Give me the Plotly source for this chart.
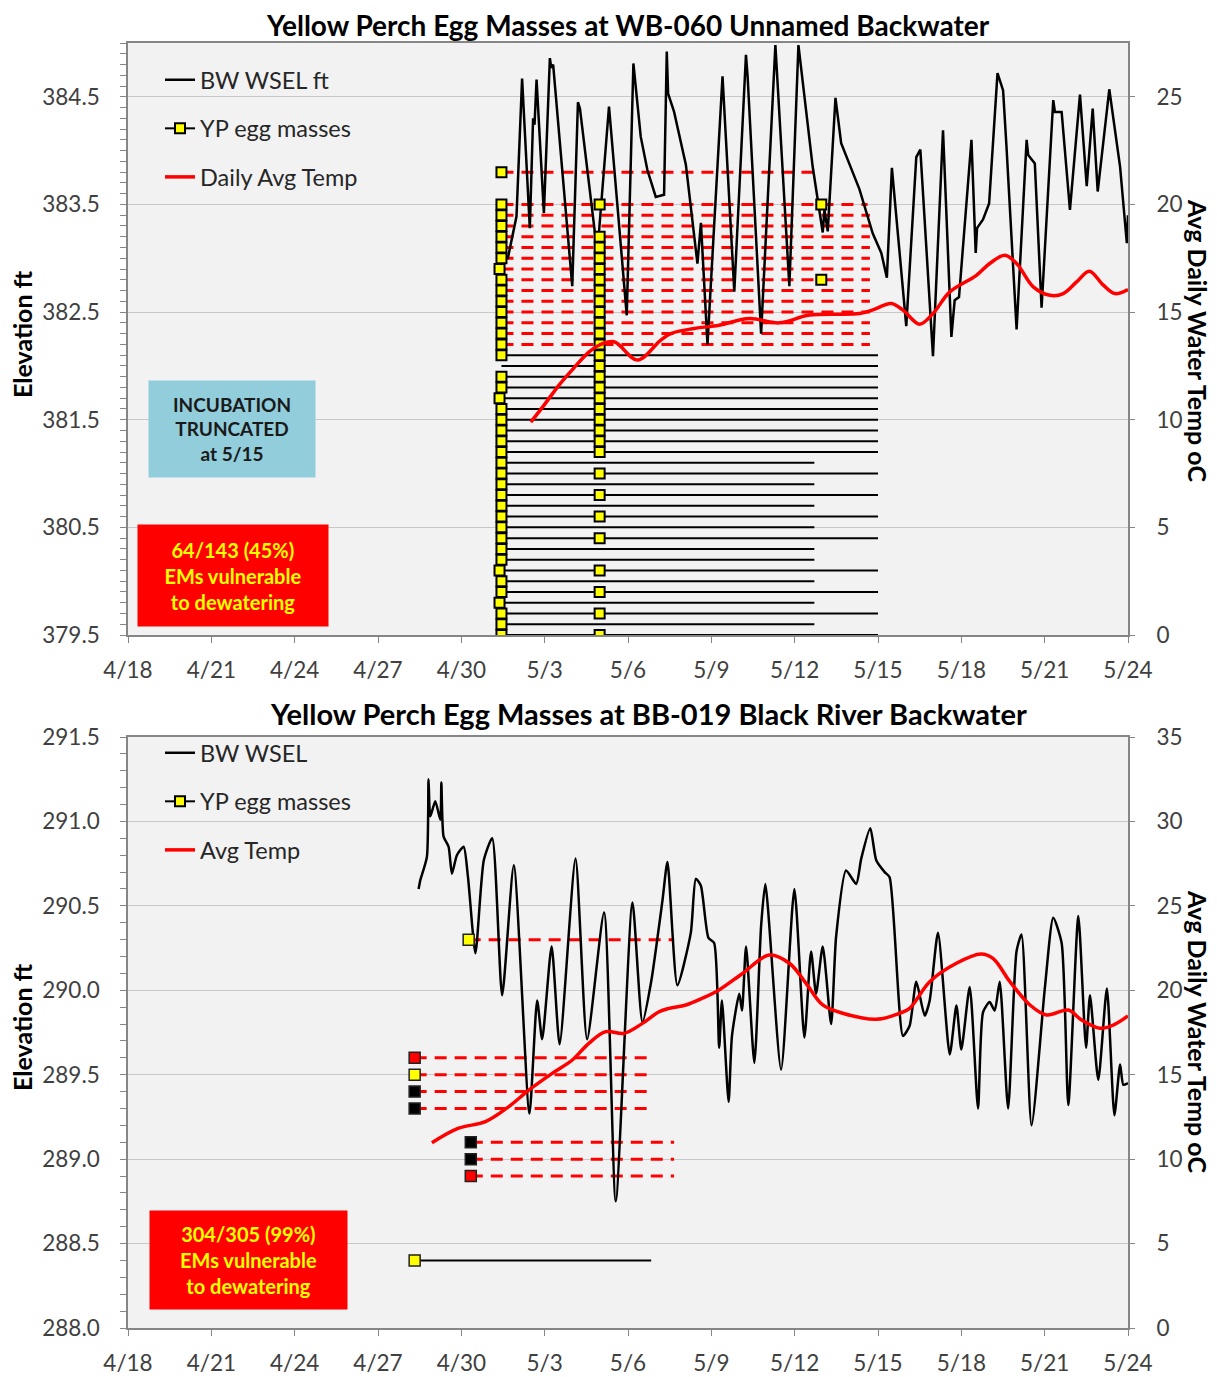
import plotly.graph_objects as go

# ---------------- shared axis data ----------------
x_tick_dates = ["2014-04-18", "2014-04-21", "2014-04-24", "2014-04-27", "2014-04-30",
                "2014-05-03", "2014-05-06", "2014-05-09", "2014-05-12", "2014-05-15",
                "2014-05-18", "2014-05-21", "2014-05-24"]
x_tick_text = ["4/18", "4/21", "4/24", "4/27", "4/30", "5/3", "5/6", "5/9", "5/12",
               "5/15", "5/18", "5/21", "5/24"]
x_range = ["2014-04-18", "2014-05-24"]

# ---------------- top chart (WB-060) ----------------
top_title = "Yellow Perch Egg Masses at WB-060 Unnamed Backwater"
top_wsel_time = [
    "2014-05-01 16:00", "2014-05-01 23:40", "2014-05-02 04:30", "2014-05-02 11:10",
    "2014-05-02 14:00", "2014-05-02 15:15", "2014-05-02 17:00", "2014-05-02 23:20",
    "2014-05-03 04:30", "2014-05-03 05:40", "2014-05-03 07:20", "2014-05-03 23:50",
    "2014-05-04 04:45", "2014-05-04 06:30", "2014-05-04 21:30", "2014-05-05 07:35",
    "2014-05-05 22:55", "2014-05-06 04:40", "2014-05-06 11:00", "2014-05-06 16:45",
    "2014-05-07 00:00", "2014-05-07 07:10", "2014-05-07 09:30", "2014-05-07 10:40",
    "2014-05-07 15:50", "2014-05-08 02:00", "2014-05-08 12:00", "2014-05-08 15:00",
    "2014-05-08 20:40", "2014-05-09 09:40", "2014-05-09 19:50", "2014-05-10 05:55",
    "2014-05-10 07:20", "2014-05-10 19:00", "2014-05-11 07:20", "2014-05-11 19:25",
    "2014-05-12 03:15", "2014-05-12 04:05", "2014-05-12 15:35", "2014-05-13 00:15",
    "2014-05-13 01:45", "2014-05-13 04:35", "2014-05-13 11:15", "2014-05-13 16:10",
    "2014-05-14 08:00", "2014-05-14 19:30", "2014-05-15 02:50", "2014-05-15 07:40",
    "2014-05-15 12:00", "2014-05-16 00:25", "2014-05-16 09:05", "2014-05-16 12:35",
    "2014-05-16 23:30", "2014-05-17 08:10", "2014-05-17 15:25", "2014-05-17 18:15",
    "2014-05-17 22:00", "2014-05-18 08:45", "2014-05-18 12:25", "2014-05-18 13:35",
    "2014-05-18 18:45", "2014-05-19 00:00", "2014-05-19 07:15", "2014-05-19 12:05",
    "2014-05-19 15:00", "2014-05-19 23:45", "2014-05-20 08:25", "2014-05-20 09:45",
    "2014-05-20 15:30", "2014-05-20 21:20", "2014-05-21 07:25", "2014-05-21 08:50",
    "2014-05-21 14:40", "2014-05-21 21:50", "2014-05-22 06:30", "2014-05-22 12:20",
    "2014-05-22 17:30", "2014-05-22 21:50", "2014-05-23 07:50", "2014-05-23 17:10",
    "2014-05-23 23:00", "2014-05-24 00:00"]
top_wsel_elev = [
    382.99, 383.39, 384.67, 383.28, 384.30, 384.24, 384.66, 383.42,
    384.86, 384.77, 384.80, 382.74, 384.45, 384.39, 383.05, 384.41,
    382.47, 384.81, 384.13, 383.82, 383.57, 383.59, 384.92, 384.53,
    384.36, 383.87, 382.95, 383.33, 382.20, 384.69, 382.69, 384.89,
    384.69, 382.30, 384.98, 382.74, 384.98, 384.90, 383.85, 383.24,
    383.45, 383.25, 384.49, 384.07, 383.64, 383.23, 383.05, 382.82,
    383.84, 382.37, 383.94, 384.01, 382.09, 384.19, 382.27, 382.61,
    382.64, 384.10, 383.05, 383.28, 383.36, 383.51, 384.72, 384.56,
    384.04, 382.34, 384.10, 383.96, 383.88, 382.54, 384.47, 384.36,
    384.36, 383.45, 384.52, 383.67, 384.39, 383.62, 384.57, 383.85,
    383.14, 383.40]
top_temp_time = [
    "2014-05-02 12:00", "2014-05-02 23:30", "2014-05-03 12:15", "2014-05-04 01:10",
    "2014-05-04 14:10", "2014-05-04 23:00", "2014-05-05 12:00", "2014-05-06 08:10",
    "2014-05-07 04:20", "2014-05-07 13:00", "2014-05-08 09:10", "2014-05-09 06:40",
    "2014-05-10 08:50", "2014-05-11 10:50", "2014-05-12 12:50", "2014-05-14 08:00",
    "2014-05-14 19:00", "2014-05-15 11:30", "2014-05-15 21:35", "2014-05-16 12:00",
    "2014-05-16 23:30", "2014-05-17 14:00", "2014-05-18 13:00", "2014-05-19 00:30",
    "2014-05-19 13:40", "2014-05-19 23:45", "2014-05-20 14:10", "2014-05-21 04:30",
    "2014-05-21 16:05", "2014-05-22 03:35", "2014-05-22 14:35", "2014-05-23 02:40",
    "2014-05-23 12:45", "2014-05-24 00:00"]
top_temp_val = [
    9.89, 10.68, 11.60, 12.40, 13.14, 13.46, 13.62, 12.77,
    13.70, 14.00, 14.24, 14.39, 14.70, 14.50, 14.86, 14.93,
    15.09, 15.40, 15.09, 14.44, 14.93, 15.94, 16.71, 17.26,
    17.64, 17.26, 16.17, 15.78, 15.86, 16.40, 16.90, 16.25,
    15.86, 16.05]

# egg-mass incubation segments (elevation, start, end, vulnerable)
top_em_elev = [383.8, 383.5, 383.4, 383.3, 383.2, 383.1, 383.0, 382.9, 382.8, 382.7,
               382.6, 382.5, 382.4, 382.3, 382.2,
               382.1, 382.0, 381.9, 381.8, 381.7, 381.6, 381.5, 381.4, 381.3, 381.2,
               381.1, 381.0, 380.9, 380.8, 380.7, 380.6, 380.5, 380.4, 380.3, 380.2,
               380.1, 380.0, 379.9, 379.8, 379.7, 379.6, 379.5]
top_em_start = ["2014-05-01 10:40"] * 42
top_em_end = (["2014-05-12 16:00", "2014-05-14 15:00"] + ["2014-05-14 17:00"] * 13 +
              ["2014-05-15 00:00"] * 10 +
              ["2014-05-12 17:00", "2014-05-15 00:00", "2014-05-12 17:00", "2014-05-15 00:00",
               "2014-05-12 17:00", "2014-05-15 00:00", "2014-05-12 17:00", "2014-05-15 00:00",
               "2014-05-12 17:00", "2014-05-12 17:00", "2014-05-15 00:00", "2014-05-12 17:00",
               "2014-05-15 00:00", "2014-05-12 17:00", "2014-05-15 00:00", "2014-05-12 17:00",
               "2014-05-15 00:00"])
top_em_vuln = [True] * 15 + [False] * 27

# egg-mass markers: first survey (5/1), second survey (5/5), late finds (5/13)
top_col1_elev = [383.8, 383.5, 383.4, 383.3, 383.2, 383.1, 383.0, 382.9, 382.8, 382.7,
                 382.6, 382.5, 382.4, 382.3, 382.2, 382.1,
                 381.9, 381.8, 381.7, 381.6, 381.5, 381.4, 381.3, 381.2, 381.1, 381.0,
                 380.9, 380.8, 380.7, 380.6, 380.5, 380.4, 380.3, 380.2, 380.1,
                 380.0, 379.9, 379.8, 379.7, 379.6, 379.5]
top_col1_time = (["2014-05-01 10:40"] * 7 + ["2014-05-01 09:00"] +
                 ["2014-05-01 10:40"] * 10 + ["2014-05-01 09:00"] +
                 ["2014-05-01 10:40"] * 15 + ["2014-05-01 09:00"] +
                 ["2014-05-01 10:40"] * 2 + ["2014-05-01 09:00"] +
                 ["2014-05-01 10:40"] * 3)
top_col2_elev = [383.5, 383.2, 383.1, 383.0, 382.9, 382.8, 382.7, 382.6, 382.5, 382.4,
                 382.3, 382.2, 382.1, 382.0, 381.9, 381.8, 381.7, 381.6, 381.5, 381.4,
                 381.3, 381.2, 381.0, 380.8, 380.6, 380.4, 380.1, 379.9, 379.7, 379.5]
top_col2_time = ["2014-05-04 23:30"] * len(top_col2_elev)
top_late_elev = [383.5, 382.8]
top_late_time = ["2014-05-12 23:00", "2014-05-12 23:00"]

top_mk_time = top_col1_time + top_col2_time + top_late_time
top_mk_elev = top_col1_elev + top_col2_elev + top_late_elev

# ---------------- bottom chart (BB-019) ----------------
bot_title = "Yellow Perch Egg Masses at BB-019 Black River Backwater"
bot_wsel_time = [
    "2014-04-28 11:05", "2014-04-28 12:30", "2014-04-28 18:15", "2014-04-28 19:40",
    "2014-04-28 21:10", "2014-04-29 01:30", "2014-04-29 05:50", "2014-04-29 06:45",
    "2014-04-29 08:40", "2014-04-29 13:00", "2014-04-29 15:50", "2014-04-29 20:10",
    "2014-04-30 02:00", "2014-04-30 05:45", "2014-04-30 12:10", "2014-04-30 19:25",
    "2014-05-01 02:40", "2014-05-01 11:15", "2014-05-01 21:20", "2014-05-02 10:50",
    "2014-05-02 17:30", "2014-05-02 21:50", "2014-05-03 06:00", "2014-05-03 12:55",
    "2014-05-04 02:40", "2014-05-04 12:40", "2014-05-05 03:20", "2014-05-05 13:25",
    "2014-05-06 03:50", "2014-05-06 12:30", "2014-05-06 20:00", "2014-05-07 05:45",
    "2014-05-07 10:05", "2014-05-07 18:40", "2014-05-08 06:15", "2014-05-08 10:35",
    "2014-05-08 14:55", "2014-05-08 21:30", "2014-05-09 02:25", "2014-05-09 06:45",
    "2014-05-09 09:10", "2014-05-09 14:55", "2014-05-09 17:50", "2014-05-10 00:10",
    "2014-05-10 02:30", "2014-05-10 06:00", "2014-05-10 13:10", "2014-05-10 19:00",
    "2014-05-10 22:40", "2014-05-11 12:15", "2014-05-11 23:45", "2014-05-12 08:25",
    "2014-05-12 14:10", "2014-05-12 18:30", "2014-05-13 00:15", "2014-05-13 07:30",
    "2014-05-13 11:50", "2014-05-13 20:25", "2014-05-14 05:10", "2014-05-14 09:30",
    "2014-05-14 17:20", "2014-05-14 22:30", "2014-05-15 05:45", "2014-05-15 10:00",
    "2014-05-15 21:35", "2014-05-16 03:20", "2014-05-16 09:05", "2014-05-16 16:20",
    "2014-05-16 20:40", "2014-05-17 03:50", "2014-05-17 14:00", "2014-05-17 19:45",
    "2014-05-18 00:00", "2014-05-18 07:15", "2014-05-18 14:25", "2014-05-18 18:45",
    "2014-05-19 00:30", "2014-05-19 04:50", "2014-05-19 09:10", "2014-05-19 16:25",
    "2014-05-19 23:40", "2014-05-20 04:00", "2014-05-20 12:40", "2014-05-21 00:15",
    "2014-05-21 07:25", "2014-05-21 14:40", "2014-05-21 20:25", "2014-05-22 05:05",
    "2014-05-22 11:45", "2014-05-22 15:10", "2014-05-22 22:20", "2014-05-23 05:45",
    "2014-05-23 12:15", "2014-05-23 17:10", "2014-05-23 20:00", "2014-05-24 00:00"]
bot_wsel_elev = [
    290.60, 290.65, 290.79, 291.25, 291.03, 291.12, 291.01, 291.23,
    290.91, 290.85, 290.69, 290.80, 290.85, 290.67, 290.22, 290.77,
    290.90, 289.97, 290.74, 289.27, 289.94, 289.71, 290.26, 289.68,
    290.78, 289.71, 290.46, 288.75, 290.52, 289.81, 290.05, 290.53,
    290.76, 290.03, 290.34, 290.66, 290.62, 290.31, 290.28, 289.66,
    289.94, 289.34, 289.73, 289.98, 289.88, 290.26, 289.57, 290.38,
    290.63, 289.53, 290.60, 289.72, 290.23, 289.98, 290.26, 289.80,
    290.32, 290.71, 290.63, 290.78, 290.96, 290.77, 290.70, 290.67,
    289.73, 289.79, 290.05, 289.85, 289.94, 290.34, 289.62, 289.91,
    289.65, 290.02, 289.30, 289.87, 289.93, 289.88, 290.05, 289.30,
    290.23, 290.33, 289.20, 290.02, 290.43, 290.28, 289.32, 290.44,
    289.66, 289.97, 289.47, 290.01, 289.26, 289.56, 289.44, 289.45]
bot_temp_time = [
    "2014-04-28 22:35", "2014-04-29 21:40", "2014-04-30 20:50", "2014-05-01 17:00",
    "2014-05-02 10:20", "2014-05-03 06:30", "2014-05-03 23:50", "2014-05-04 14:10",
    "2014-05-05 04:50", "2014-05-05 20:40", "2014-05-06 12:30", "2014-05-07 02:50",
    "2014-05-07 11:30", "2014-05-08 02:00", "2014-05-08 16:20", "2014-05-09 06:40",
    "2014-05-10 03:10", "2014-05-11 02:10", "2014-05-11 19:25", "2014-05-12 09:50",
    "2014-05-13 00:15", "2014-05-13 17:30", "2014-05-14 22:30", "2014-05-15 18:40",
    "2014-05-16 03:20", "2014-05-16 20:40", "2014-05-17 19:45", "2014-05-18 17:00",
    "2014-05-19 03:20", "2014-05-19 18:00", "2014-05-20 11:15", "2014-05-21 01:40",
    "2014-05-21 20:25", "2014-05-22 07:55", "2014-05-22 23:50", "2014-05-23 11:15",
    "2014-05-24 00:00"]
bot_temp_val = [
    10.97, 11.83, 12.22, 13.11, 14.09, 15.08, 15.87, 16.86,
    17.55, 17.45, 18.04, 18.73, 18.93, 19.13, 19.53, 20.02,
    21.01, 22.09, 21.60, 20.41, 19.13, 18.64, 18.28, 18.64,
    18.93, 20.51, 21.60, 22.15, 21.89, 20.51, 19.13, 18.54,
    18.83, 18.24, 17.75, 17.94, 18.48]

bot_em_elev = [290.3, 289.6, 289.5, 289.4, 289.3, 289.1, 289.0, 288.9, 288.4]
bot_em_start = ["2014-04-30 06:20", "2014-04-28 07:40", "2014-04-28 07:40",
                "2014-04-28 07:40", "2014-04-28 07:40", "2014-04-30 08:10",
                "2014-04-30 08:10", "2014-04-30 08:10", "2014-04-28 07:40"]
bot_em_end = ["2014-05-07 15:50", "2014-05-06 20:00", "2014-05-06 20:00",
              "2014-05-06 20:00", "2014-05-06 20:00", "2014-05-07 15:50",
              "2014-05-07 15:50", "2014-05-07 15:50", "2014-05-06 20:00"]
bot_em_vuln = [True, True, True, True, True, True, True, True, False]
bot_em_color = ["#FFFF00", "#FF0000", "#FFFF00", "#000000", "#000000",
                "#000000", "#000000", "#FF0000", "#FFFF00"]

# ---------------- helpers ----------------
def segments(starts, ends, elevs, flags, want):
    xs, ys = [], []
    for s, e, v, f in zip(starts, ends, elevs, flags):
        if f == want:
            xs += [s, e, None]
            ys += [v, v, None]
    return xs, ys

# the page body adds an 8px margin, so the figure is laid out in page pixels minus 8
OFF = 8
W, H = 1217 - OFF, 1377 - OFF
def px(x):
    return (x - OFF) / W
def py(y):
    return 1 - (y - OFF) / H

FONT = "Lato, 'Open Sans', sans-serif"
TICKC = "#404040"
AXC = "#868686"
GRIDC = "#C8C8C8"
TICKSIZE = 22.5

fig = go.Figure()

# ---- top traces ----
xs, ys = segments(top_em_start, top_em_end, top_em_elev, top_em_vuln, True)
fig.add_trace(go.Scatter(x=xs, y=ys, mode="lines", xaxis="x", yaxis="y",
                         line=dict(color="#FF0000", width=3, dash="12px,8px"),
                         showlegend=False, hoverinfo="skip"))
xs, ys = segments(top_em_start, top_em_end, top_em_elev, top_em_vuln, False)
fig.add_trace(go.Scatter(x=xs, y=ys, mode="lines", xaxis="x", yaxis="y",
                         line=dict(color="#000000", width=2),
                         showlegend=False, hoverinfo="skip"))
fig.add_trace(go.Scatter(x=top_wsel_time, y=top_wsel_elev, mode="lines", xaxis="x", yaxis="y",
                         name="BW WSEL ft", line=dict(color="#000000", width=2.5),
                         legend="legend", legendgroup="t1"))
fig.add_trace(go.Scatter(x=top_mk_time, y=top_mk_elev, mode="markers", xaxis="x", yaxis="y",
                         marker=dict(symbol="square", size=10, color="#FFFF00",
                                     line=dict(color="#000000", width=2)),
                         showlegend=False))
fig.add_trace(go.Scatter(x=[None], y=[None], mode="lines+markers", xaxis="x", yaxis="y",
                         name="YP egg masses", line=dict(color="#000000", width=2),
                         marker=dict(symbol="square", size=10, color="#FFFF00",
                                     line=dict(color="#000000", width=2)),
                         legend="legend", legendgroup="t2"))
fig.add_trace(go.Scatter(x=top_temp_time, y=top_temp_val, mode="lines", xaxis="x", yaxis="y2",
                         name="Daily Avg Temp", line=dict(color="#FF0000", width=3.5, shape="spline"),
                         legend="legend", legendgroup="t3"))

# ---- bottom traces ----
xs, ys = segments(bot_em_start, bot_em_end, bot_em_elev, bot_em_vuln, True)
fig.add_trace(go.Scatter(x=xs, y=ys, mode="lines", xaxis="x2", yaxis="y3",
                         line=dict(color="#FF0000", width=3, dash="12px,8px"),
                         showlegend=False, hoverinfo="skip"))
xs, ys = segments(bot_em_start, bot_em_end, bot_em_elev, bot_em_vuln, False)
fig.add_trace(go.Scatter(x=xs, y=ys, mode="lines", xaxis="x2", yaxis="y3",
                         line=dict(color="#000000", width=2),
                         showlegend=False, hoverinfo="skip"))
fig.add_trace(go.Scatter(x=bot_wsel_time, y=bot_wsel_elev, mode="lines", xaxis="x2", yaxis="y3",
                         name="BW WSEL", line=dict(color="#000000", width=2.5, shape="spline",
                                                   smoothing=0.6),
                         legend="legend2", legendgroup="b1"))
fig.add_trace(go.Scatter(x=bot_em_start, y=bot_em_elev, mode="markers", xaxis="x2", yaxis="y3",
                         marker=dict(symbol="square", size=11, color=bot_em_color,
                                     line=dict(color="#222222", width=1.5)),
                         showlegend=False))
fig.add_trace(go.Scatter(x=[None], y=[None], mode="lines+markers", xaxis="x2", yaxis="y3",
                         name="YP egg masses", line=dict(color="#000000", width=2),
                         marker=dict(symbol="square", size=10, color="#FFFF00",
                                     line=dict(color="#000000", width=2)),
                         legend="legend2", legendgroup="b2"))
fig.add_trace(go.Scatter(x=bot_temp_time, y=bot_temp_val, mode="lines", xaxis="x2", yaxis="y4",
                         name="Avg Temp", line=dict(color="#FF0000", width=3.5, shape="spline"),
                         legend="legend2", legendgroup="b3"))

# ---------------- layout ----------------
xdom = [px(128), px(1128)]
top_dom = [py(635), py(43)]
bot_dom = [py(1328), py(737)]

def xaxis_cfg(anchor):
    return dict(domain=xdom, anchor=anchor, type="date", range=x_range,
                tickmode="array", tickvals=x_tick_dates, ticktext=x_tick_text,
                ticks="outside", ticklen=6, tickcolor=AXC, showline=True, linecolor=AXC,
                linewidth=1.5, mirror=True, showgrid=False, zeroline=False,
                automargin=False, ticklabelstandoff=8,
                tickfont=dict(family=FONT, size=TICKSIZE, color=TICKC))

def yleft_cfg(anchor, dom, rng, dtick):
    return dict(domain=dom, anchor=anchor, range=rng, tick0=rng[0], dtick=dtick,
                tickformat=".1f", ticks="outside", ticklen=6, tickcolor=AXC,
                minor=dict(dtick=0.1, tick0=rng[0], ticks="outside", ticklen=6,
                           tickcolor=AXC, showgrid=False),
                showline=True, linecolor=AXC, linewidth=1.5, mirror=True,
                showgrid=True, gridcolor=GRIDC, gridwidth=1.2, zeroline=False,
                automargin=False, ticklabelstandoff=16,
                tickfont=dict(family=FONT, size=TICKSIZE, color=TICKC))

def yright_cfg(anchor, over, rng, tvals):
    return dict(anchor=anchor, overlaying=over, side="right", range=rng,
                tickmode="array", tickvals=tvals, ticks="outside", ticklen=6,
                tickcolor=AXC, showline=False, showgrid=False, zeroline=False,
                automargin=False, ticklabelstandoff=17,
                tickfont=dict(family=FONT, size=TICKSIZE, color=TICKC))

legend_common = dict(font=dict(family=FONT, size=23.5, color="#262626"),
                     bgcolor="rgba(0,0,0,0)", traceorder="grouped", tracegroupgap=15,
                     xanchor="left", yanchor="top", itemwidth=30)

fig.update_layout(
    width=W, height=H, margin=dict(l=0, r=0, t=0, b=0, autoexpand=False),
    paper_bgcolor="#FFFFFF", plot_bgcolor="#F2F2F2",
    font=dict(family=FONT, color="#000000"),
    xaxis=xaxis_cfg("y"),
    yaxis=yleft_cfg("x", top_dom, [379.5, 385.0], 1.0),
    yaxis2=yright_cfg("x", "y", [0, 27.5], [0, 5, 10, 15, 20, 25]),
    xaxis2=xaxis_cfg("y3"),
    yaxis3=yleft_cfg("x2", bot_dom, [288.0, 291.5], 0.5),
    yaxis4=yright_cfg("x2", "y3", [0, 35], [0, 5, 10, 15, 20, 25, 30, 35]),
    legend=dict(x=px(160), y=py(58), **legend_common),
    legend2=dict(x=px(160), y=py(731), **legend_common),
    showlegend=True,
)

AX_TITLE_FONT = dict(size=25, family=FONT, color="#000000")
annotations = [
    dict(text="<b>" + top_title + "</b>", x=px(628), y=py(25), borderpad=0,
         font=dict(size=28, family=FONT, color="#000000")),
    dict(text="<b>" + bot_title + "</b>", x=px(648), y=py(713),
         font=dict(size=29, family=FONT, color="#000000")),
    dict(text="<b>Elevation ft</b>", x=px(22), y=py(334), textangle=-90, font=AX_TITLE_FONT),
    dict(text="<b>Elevation ft</b>", x=px(22), y=py(1027), textangle=-90, font=AX_TITLE_FONT),
    dict(text="<b>Avg Daily Water Temp oC</b>", x=px(1198), y=py(341), textangle=90,
         font=AX_TITLE_FONT),
    dict(text="<b>Avg Daily Water Temp oC</b>", x=px(1198), y=py(1032), textangle=90,
         font=AX_TITLE_FONT),
    dict(text="<b>INCUBATION<br>TRUNCATED<br>at 5/15</b>", x=px(232), y=py(429),
         width=166, height=96, bgcolor="#92CDDC", borderpad=0,
         font=dict(size=19, family=FONT, color="#1A1A1A")),
    dict(text="<b>64/143 (45%)<br>EMs vulnerable<br>to dewatering</b>", x=px(233), y=py(575),
         width=190, height=101, bgcolor="#FF0000", borderpad=0,
         font=dict(size=20, family=FONT, color="#FFFF00")),
    dict(text="<b>304/305 (99%)<br>EMs vulnerable<br>to dewatering</b>", x=px(248), y=py(1260),
         width=197, height=98, bgcolor="#FF0000", borderpad=0,
         font=dict(size=20, family=FONT, color="#FFFF00")),
]
for a in annotations:
    a.update(xref="paper", yref="paper", showarrow=False, xanchor="center", yanchor="middle")
fig.update_layout(annotations=annotations)

fig.write_html("out.html")
